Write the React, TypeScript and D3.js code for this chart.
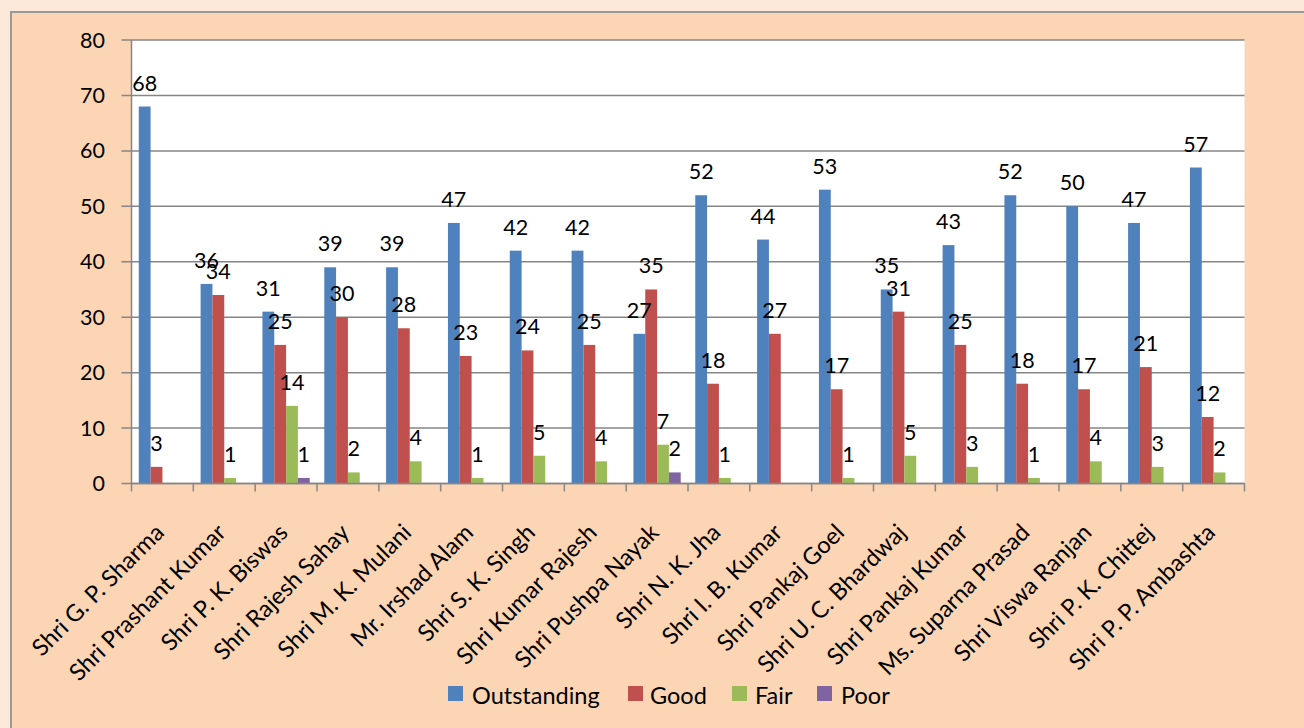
import React from "react";
import * as d3 from "d3";

const categories = [
  "Shri G. P. Sharma",
  "Shri Prashant Kumar",
  "Shri P. K. Biswas",
  "Shri Rajesh Sahay",
  "Shri M. K. Mulani",
  "Mr. Irshad Alam",
  "Shri S. K. Singh",
  "Shri Kumar Rajesh",
  "Shri Pushpa Nayak",
  "Shri N. K. Jha",
  "Shri I. B. Kumar",
  "Shri Pankaj Goel",
  "Shri U. C. Bhardwaj",
  "Shri Pankaj Kumar",
  "Ms. Suparna Prasad",
  "Shri Viswa Ranjan",
  "Shri P. K. Chittej",
  "Shri P. P. Ambashta",
];

const outstanding = [68, 36, 31, 39, 39, 47, 42, 42, 27, 52, 44, 53, 35, 43, 52, 50, 47, 57];
const good = [3, 34, 25, 30, 28, 23, 24, 25, 35, 18, 27, 17, 31, 25, 18, 17, 21, 12];
const fair = [0, 1, 14, 2, 4, 1, 5, 4, 7, 1, 0, 1, 5, 3, 1, 4, 3, 2];
const poor = [0, 0, 1, 0, 0, 0, 0, 0, 2, 0, 0, 0, 0, 0, 0, 0, 0, 0];

const seriesNames = ["Outstanding", "Good", "Fair", "Poor"];
const seriesValues = [outstanding, good, fair, poor];
const seriesColors = ["#4f81bd", "#c0504d", "#9bbb59", "#8064a2"];
const yTicks = [0, 10, 20, 30, 40, 50, 60, 70, 80];

const W = 1304;
const H = 728;
const FONT = "Lato, 'Open Sans', sans-serif";

export default function App() {
  const left = 131.5;
  const right = 1244.5;
  const top = 40;
  const bottom = 483.5;

  const x = d3.scaleBand<string>().domain(categories).range([left, right]).paddingInner(0).paddingOuter(0);
  const step = x.step();
  const groupW = step * 0.765;
  const xs = d3
    .scaleBand<string>()
    .domain(seriesNames)
    .range([(step - groupW) / 2, (step + groupW) / 2])
    .padding(0);
  const y = d3.scaleLinear().domain([0, 80]).range([bottom, top]);

  const gridColor = "#868686";

  const legendItems = [
    { name: "Outstanding", sx: 448, tx: 472 },
    { name: "Good", sx: 628, tx: 650 },
    { name: "Fair", sx: 732, tx: 755 },
    { name: "Poor", sx: 817, tx: 841 },
  ];

  return (
    <svg
      width={W}
      height={H}
      style={{ position: "fixed", left: 0, top: 0, display: "block" }}
      fontFamily={FONT}
    >
      <rect x={0} y={0} width={W} height={H} fill="#fde9d9" />
      <rect x={11} y={12} width={W + 20} height={H + 20} fill="#fcd5b5" stroke="#9a9a9a" strokeWidth={2} />
      <rect x={left} y={top} width={right - left} height={bottom - top} fill="#ffffff" />

      {/* gridlines */}
      {yTicks.map((t) => (
        <line key={"g" + t} x1={left - 10} x2={right} y1={y(t)} y2={y(t)} stroke={gridColor} strokeWidth={1.5} />
      ))}

      {/* bars */}
      {seriesValues.map((vals, si) =>
        vals.map((v, ci) =>
          v > 0 ? (
            <rect
              key={`b${si}-${ci}`}
              x={(x(categories[ci]) as number) + (xs(seriesNames[si]) as number)}
              y={y(v)}
              width={xs.bandwidth()}
              height={y(0) - y(v)}
              fill={seriesColors[si]}
            />
          ) : null
        )
      )}

      {/* axes */}
      <line x1={left} x2={left} y1={top} y2={bottom} stroke={gridColor} strokeWidth={1.5} />
      <line x1={left} x2={right} y1={bottom} y2={bottom} stroke={gridColor} strokeWidth={1.5} />
      {d3.range(categories.length + 1).map((i) => (
        <line
          key={"xt" + i}
          x1={left + i * step}
          x2={left + i * step}
          y1={bottom}
          y2={bottom + 8}
          stroke={gridColor}
          strokeWidth={1.5}
        />
      ))}

      {/* y tick labels */}
      {yTicks.map((t) => (
        <text key={"yl" + t} x={105} y={y(t) + 7.5} textAnchor="end" fontSize={21.5} fill="#000">
          {t}
        </text>
      ))}

      {/* data labels */}
      {seriesValues.map((vals, si) =>
        vals.map((v, ci) =>
          v > 0 ? (
            <text
              key={`l${si}-${ci}`}
              x={(x(categories[ci]) as number) + (xs(seriesNames[si]) as number) + xs.bandwidth() / 2}
              y={y(v) - 16}
              textAnchor="middle"
              fontSize={21.5}
              fill="#000"
            >
              {v}
            </text>
          ) : null
        )
      )}

      {/* category labels */}
      {categories.map((c) => {
        const cx = (x(c) as number) + step / 2 + 3;
        const cy = 534;
        return (
          <text
            key={"c" + c}
            transform={`translate(${cx},${cy}) rotate(-45)`}
            textAnchor="end"
            fontSize={23.5}
            fill="#000"
          >
            {c}
          </text>
        );
      })}

      {/* legend */}
      {legendItems.map((it, i) => (
        <g key={"lg" + it.name}>
          <rect x={it.sx} y={686} width={15} height={15} fill={seriesColors[i]} />
          <text x={it.tx} y={704} fontSize={23.5} fill="#000">
            {it.name}
          </text>
        </g>
      ))}
    </svg>
  );
}
